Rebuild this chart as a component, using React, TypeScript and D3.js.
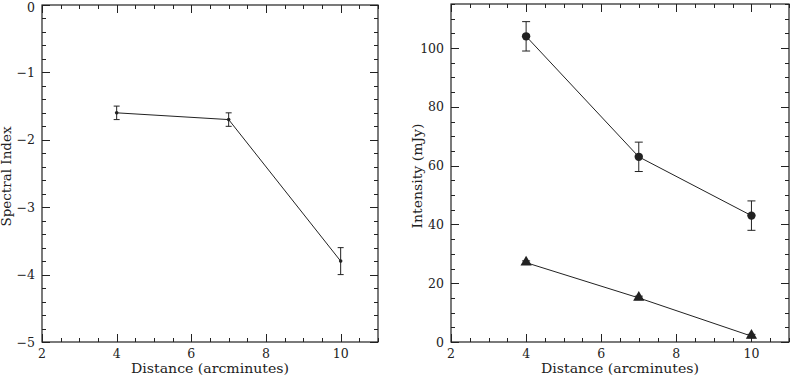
import React from "react";
import * as d3 from "d3";

const distances = [4, 7, 10];
const spectralIndex = [-1.6, -1.7, -3.8];
const spectralErr = [0.1, 0.1, 0.2];
const circleIntensity = [104, 63, 43];
const circleErr = [5, 5, 5];
const triangleIntensity = [27, 15, 2];
const triangleErr = [0.6, 0.6, 0.6];

const xTickLabels = [2, 4, 6, 8, 10];
const leftYTicks = [0, -1, -2, -3, -4, -5];
const rightYTicks = [0, 20, 40, 60, 80, 100];

const FONT = "DejaVu Serif";
const INK = "#222";

type PanelProps = {
  left: number;
  right: number;
  top: number;
  bottom: number;
  yDomain: [number, number];
  yMajor: number[];
  yMinorStep: number;
  yLabel: string;
  yLabelX: number;
  yLabelLen: number;
  fmt: (v: number) => string;
  children: (x: d3.ScaleLinear<number, number>, y: d3.ScaleLinear<number, number>) => React.ReactNode;
};

function Panel(p: PanelProps) {
  const x = d3.scaleLinear().domain([2, 11]).range([p.left, p.right]);
  const y = d3.scaleLinear().domain(p.yDomain).range([p.bottom, p.top]);
  const xMinor = d3.range(2, 11.001, 0.5);
  const [y0, y1] = p.yDomain;
  const yMinor = d3.range(Math.ceil(y0 / p.yMinorStep) * p.yMinorStep, y1 + 1e-6, p.yMinorStep);
  const isMajorX = (v: number) => Math.abs(v - Math.round(v)) < 1e-6 && Math.round(v) % 2 === 0;
  const isMajorY = (v: number) => p.yMajor.some((m) => Math.abs(m - v) < 1e-6);
  const major = 8;
  const minor = 4;
  return (
    <g>
      {xMinor.map((v, i) => {
        const len = isMajorX(v) ? major : minor;
        const px = Math.round(x(v)) + 0.5;
        return (
          <g key={"xt" + i}>
            <line x1={px} x2={px} y1={p.bottom} y2={p.bottom - len} stroke={INK} strokeWidth={1} />
            <line x1={px} x2={px} y1={p.top} y2={p.top + len} stroke={INK} strokeWidth={1} />
          </g>
        );
      })}
      {yMinor.map((v, i) => {
        const len = isMajorY(v) ? major : minor;
        const py = Math.round(y(v)) + 0.5;
        return (
          <g key={"yt" + i}>
            <line x1={p.left} x2={p.left + len} y1={py} y2={py} stroke={INK} strokeWidth={1} />
            <line x1={p.right} x2={p.right - len} y1={py} y2={py} stroke={INK} strokeWidth={1} />
          </g>
        );
      })}
      <rect x={p.left} y={p.top} width={p.right - p.left} height={p.bottom - p.top} fill="none" stroke={INK} strokeWidth={1.2} />
      {xTickLabels.map((v) => (
        <text key={"xl" + v} x={x(v)} y={p.bottom + 16} textAnchor="middle" fontFamily={FONT} fontSize={12.5} fill={INK}>
          {v}
        </text>
      ))}
      {p.yMajor.map((v) => (
        <text key={"yl" + v} x={p.left - 7} y={Math.max(y(v) + 4.5, 12)} textAnchor="end" fontFamily={FONT} fontSize={12.5} fill={INK}>
          {p.fmt(v)}
        </text>
      ))}
      <text
        x={(p.left + p.right) / 2}
        y={p.bottom + 31}
        textAnchor="middle"
        fontFamily={FONT}
        fontSize={13}
        fill={INK}
        textLength={158}
        lengthAdjust="spacingAndGlyphs"
      >
        Distance (arcminutes)
      </text>
      <text
        transform={`translate(${p.yLabelX},${(p.top + p.bottom) / 2 + 3}) rotate(-90)`}
        textAnchor="middle"
        fontFamily={FONT}
        fontSize={13}
        fill={INK}
        textLength={p.yLabelLen}
        lengthAdjust="spacingAndGlyphs"
      >
        {p.yLabel}
      </text>
      {p.children(x, y)}
    </g>
  );
}

function ErrorBars({ x, y, vals, errs, cap }: { x: any; y: any; vals: number[]; errs: number[]; cap: number }) {
  return (
    <g stroke={INK} strokeWidth={1}>
      {distances.map((d, i) => {
        const px = x(d);
        const yt = y(vals[i] + errs[i]);
        const yb = y(vals[i] - errs[i]);
        return (
          <g key={i}>
            <line x1={px} x2={px} y1={yt} y2={yb} />
            <line x1={px - cap} x2={px + cap} y1={yt} y2={yt} />
            <line x1={px - cap} x2={px + cap} y1={yb} y2={yb} />
          </g>
        );
      })}
    </g>
  );
}

export default function App() {
  const fmtMinus = (v: number) => (v < 0 ? "\u2212" + Math.abs(v) : String(v));
  return (
    <svg width={790} height={378} style={{ position: "absolute", left: 0, top: 0, background: "#fff" }}>
      <Panel
        left={42}
        right={378}
        top={5}
        bottom={342}
        yDomain={[-5, 0]}
        yMajor={leftYTicks}
        yMinorStep={0.2}
        yLabel="Spectral Index"
        yLabelX={10.5}
        yLabelLen={100}
        fmt={fmtMinus}
      >
        {(x, y) => {
          const line = d3.line<number>().x((_, i) => x(distances[i])).y((v) => y(v));
          return (
            <g>
              <path d={line(spectralIndex) || ""} fill="none" stroke={INK} strokeWidth={1} />
              <ErrorBars x={x} y={y} vals={spectralIndex} errs={spectralErr} cap={3} />
              {spectralIndex.map((v, i) => (
                <circle key={i} cx={x(distances[i])} cy={y(v)} r={1.8} fill={INK} />
              ))}
            </g>
          );
        }}
      </Panel>
      <Panel
        left={451}
        right={789}
        top={4}
        bottom={342}
        yDomain={[0, 115]}
        yMajor={rightYTicks}
        yMinorStep={5}
        yLabel="Intensity (mJy)"
        yLabelX={421.5}
        yLabelLen={105}
        fmt={(v) => String(v)}
      >
        {(x, y) => {
          const line = d3.line<number>().x((_, i) => x(distances[i])).y((v) => y(v));
          const tri = d3.symbol().type(d3.symbolTriangle).size(55);
          return (
            <g>
              <path d={line(circleIntensity) || ""} fill="none" stroke={INK} strokeWidth={1} />
              <path d={line(triangleIntensity) || ""} fill="none" stroke={INK} strokeWidth={1} />
              <ErrorBars x={x} y={y} vals={circleIntensity} errs={circleErr} cap={4} />
              <ErrorBars x={x} y={y} vals={triangleIntensity} errs={triangleErr} cap={4} />
              {circleIntensity.map((v, i) => (
                <circle key={"c" + i} cx={x(distances[i])} cy={y(v)} r={4.2} fill={INK} />
              ))}
              {triangleIntensity.map((v, i) => (
                <path key={"t" + i} d={tri() || ""} transform={`translate(${x(distances[i])},${y(v) - 0.5})`} fill={INK} />
              ))}
            </g>
          );
        }}
      </Panel>
    </svg>
  );
}
